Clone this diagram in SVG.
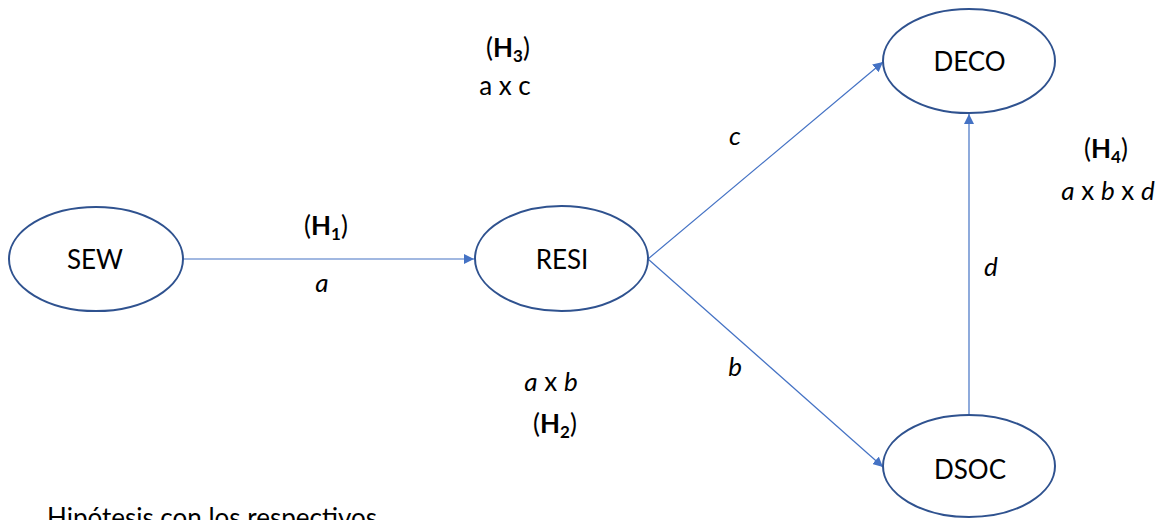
<svg xmlns="http://www.w3.org/2000/svg" width="1162" height="520" viewBox="0 0 1162 520">
<defs>
<style>
.node{fill:#ffffff;stroke:#2F528F;stroke-width:2}
.lbl{font-family:Lato,"Liberation Sans",sans-serif;font-size:26px;fill:#000;text-anchor:middle}
.edge{stroke:#4472C4;stroke-width:1.2;fill:none;marker-end:url(#ah)}
.it{font-style:italic}
.b{font-weight:bold}
</style>
<marker id="ah" viewBox="0 0 10 10" refX="10" refY="5" markerWidth="10" markerHeight="10" markerUnits="userSpaceOnUse" orient="auto">
<path d="M0,0 L10,5 L0,10 z" fill="#4472C4"/>
</marker>
</defs>
<rect width="1162" height="520" fill="#ffffff"/>
<g id="connectors">
<line class="edge" x1="184" y1="259" x2="474" y2="259"/>
<line class="edge" x1="648" y1="259" x2="883" y2="62"/>
<line class="edge" x1="648" y1="259" x2="883" y2="467"/>
<line class="edge" x1="969" y1="414" x2="969" y2="114"/>
</g>
<g id="SEW"><ellipse class="node" cx="96" cy="259" rx="87" ry="52"/><text class="lbl" x="95" y="269">SEW</text></g>
<g id="RESI"><ellipse class="node" cx="561.5" cy="258.5" rx="86.5" ry="52.5"/><text class="lbl" x="562" y="269">RESI</text></g>
<g id="DECO"><ellipse class="node" cx="969" cy="61" rx="86" ry="52"/><text class="lbl" x="969.5" y="71">DECO</text></g>
<g id="DSOC"><ellipse class="node" cx="969" cy="466" rx="86" ry="51"/><text class="lbl" x="970" y="479">DSOC</text></g>
<g id="labels">
<text class="lbl" x="326" y="235">(<tspan class="b">H</tspan><tspan class="b" font-size="17" dy="5">1</tspan><tspan dy="-5">)</tspan></text>
<text class="lbl it" x="322" y="292">a</text>
<text class="lbl" x="508" y="57">(<tspan class="b">H</tspan><tspan class="b" font-size="17" dy="5">3</tspan><tspan dy="-5">)</tspan></text>
<text class="lbl" x="505" y="95">a x c</text>
<text class="lbl it" x="735" y="145">c</text>
<text class="lbl" x="1106" y="158">(<tspan class="b">H</tspan><tspan class="b" font-size="17" dy="5">4</tspan><tspan dy="-5">)</tspan></text>
<text class="lbl" x="1108" y="200"><tspan class="it">a</tspan> x <tspan class="it">b</tspan> x <tspan class="it">d</tspan></text>
<text class="lbl it" x="991" y="276">d</text>
<text class="lbl it" x="735" y="376">b</text>
<text class="lbl" x="551" y="391"><tspan class="it">a</tspan> x <tspan class="it">b</tspan></text>
<text class="lbl" x="555" y="433">(<tspan class="b">H</tspan><tspan class="b" font-size="17" dy="5">2</tspan><tspan dy="-5">)</tspan></text>
<text class="lbl" x="47" y="527" style="text-anchor:start">Hipótesis con los respectivos</text>
</g>
</svg>
